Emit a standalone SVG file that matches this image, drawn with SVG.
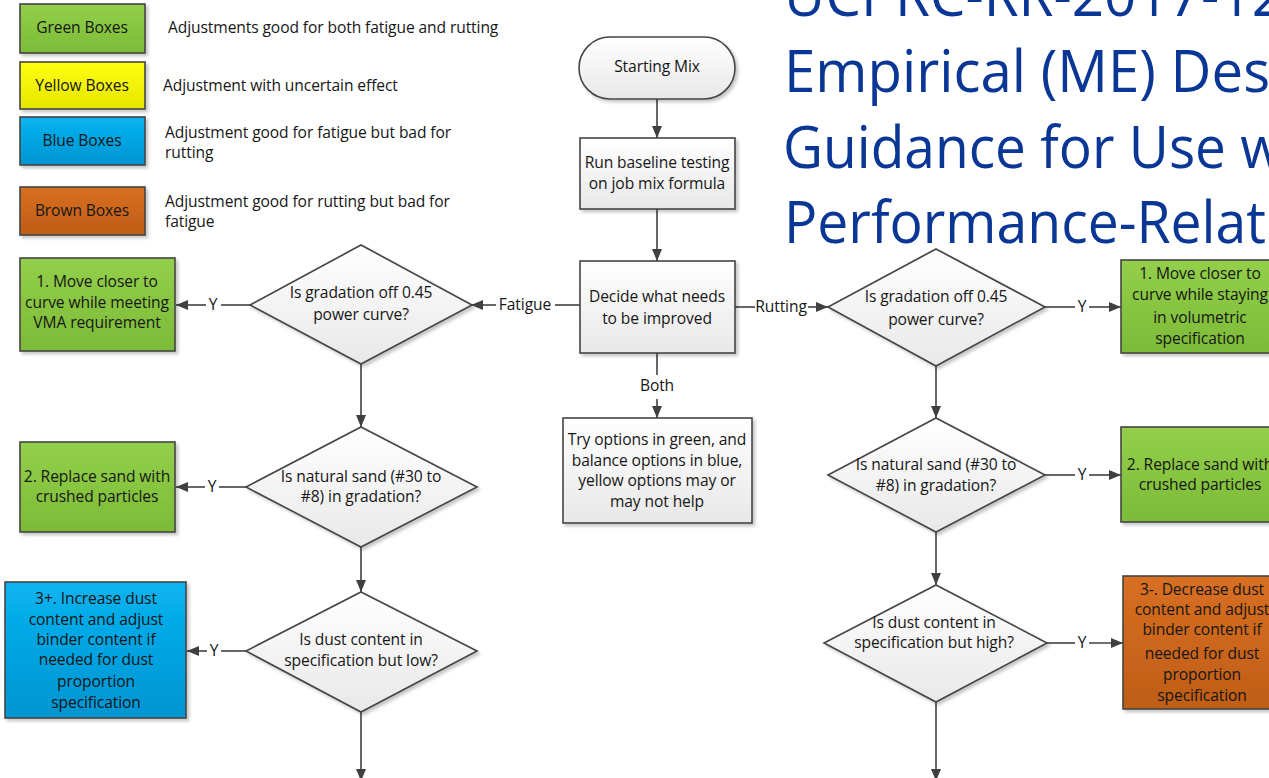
<svg xmlns="http://www.w3.org/2000/svg" width="1269" height="778" viewBox="0 0 1269 778">
  <defs>
    <linearGradient id="gGray" x1="0" y1="0" x2="0" y2="1">
      <stop offset="0" stop-color="#ffffff"/>
      <stop offset="1" stop-color="#e8e8e8"/>
    </linearGradient>
    <linearGradient id="gGreen" x1="0" y1="0" x2="0" y2="1">
      <stop offset="0" stop-color="#93cf4a"/>
      <stop offset="1" stop-color="#7cbb38"/>
    </linearGradient>
    <linearGradient id="gYellow" x1="0" y1="0" x2="0" y2="1">
      <stop offset="0" stop-color="#ffff10"/>
      <stop offset="1" stop-color="#e6e600"/>
    </linearGradient>
    <linearGradient id="gBlue" x1="0" y1="0" x2="0" y2="1">
      <stop offset="0" stop-color="#08b4f0"/>
      <stop offset="1" stop-color="#0094d2"/>
    </linearGradient>
    <linearGradient id="gBrown" x1="0" y1="0" x2="0" y2="1">
      <stop offset="0" stop-color="#d86f22"/>
      <stop offset="1" stop-color="#bf5d16"/>
    </linearGradient>
    <filter id="shadow" x="-10%" y="-10%" width="130%" height="130%">
      <feDropShadow dx="2.5" dy="2.5" stdDeviation="1.5" flood-color="#000" flood-opacity="0.22"/>
    </filter>
    <marker id="arr" viewBox="0 0 12 10" refX="12" refY="5" markerWidth="12" markerHeight="10" markerUnits="userSpaceOnUse" orient="auto">
      <path d="M0,0 L12,5 L0,10 z" fill="#404040"/>
    </marker>
  </defs>
  <style>
    .box { stroke: #444; stroke-width: 1.6; filter: url(#shadow); }
    .gray { fill: url(#gGray); }
    .green { fill: url(#gGreen); }
    .yellow { fill: url(#gYellow); }
    .blue { fill: url(#gBlue); }
    .brown { fill: url(#gBrown); }
    text { font-family: "Open Sans", "Noto Sans", sans-serif; font-size: 15.6px; fill: #161616; letter-spacing: -0.1px; }
    .c { text-anchor: middle; }
    .conn path { stroke: #404040; stroke-width: 1.6; fill: none; }
    .conn .a { marker-end: url(#arr); }
    .title { font-family: "Open Sans", "Noto Sans", sans-serif; font-size: 58px; fill: #0a3796; letter-spacing: 0; }
  </style>

  <rect width="1269" height="778" fill="#ffffff"/>

  <!-- legend -->
  <g id="legend-green">
    <rect class="box green" x="20" y="4" width="125" height="49"/>
    <text class="c" x="82" y="33">Green Boxes</text>
    <text x="168" y="33">Adjustments good for both fatigue and rutting</text>
  </g>
  <g id="legend-yellow">
    <rect class="box yellow" x="20" y="62" width="125" height="47"/>
    <text class="c" x="82" y="91">Yellow Boxes</text>
    <text x="163" y="91">Adjustment with uncertain effect</text>
  </g>
  <g id="legend-blue">
    <rect class="box blue" x="20" y="117" width="125" height="48"/>
    <text class="c" x="82" y="146">Blue Boxes</text>
    <text x="165" y="138">Adjustment good for fatigue but bad for</text>
    <text x="165" y="158">rutting</text>
  </g>
  <g id="legend-brown">
    <rect class="box brown" x="20" y="187" width="125" height="48"/>
    <text class="c" x="82" y="216">Brown Boxes</text>
    <text x="165" y="207">Adjustment good for rutting but bad for</text>
    <text x="165" y="227">fatigue</text>
  </g>

  <!-- title block -->
  <g id="title">
    <text class="title" x="784" y="16" textLength="500" lengthAdjust="spacingAndGlyphs">UCPRC-RR-2017-12</text>
    <text class="title" x="784" y="92" textLength="486" lengthAdjust="spacingAndGlyphs">Empirical (ME) Des</text>
    <text class="title" x="783" y="168" textLength="500" lengthAdjust="spacingAndGlyphs">Guidance for Use w</text>
    <text class="title" x="784" y="243" textLength="482" lengthAdjust="spacingAndGlyphs">Performance-Relat</text>
  </g>

  <!-- connectors -->
  <g id="connectors" class="conn">
    <path class="a" d="M657,99 V138"/>
    <path class="a" d="M657,209 V261"/>
    <path d="M657,353 V375"/>
    <path class="a" d="M657,399 V418"/>
    <path d="M580,305 H555"/>
    <path class="a" d="M496,305 H471"/>
    <path d="M735,307 H755"/>
    <path class="a" d="M808,307 H828"/>
    <path d="M250,305 H221"/>
    <path class="a" d="M206,305 H176"/>
    <path class="a" d="M361,364 V427"/>
    <path d="M246,487 H219"/>
    <path class="a" d="M205,487 H176"/>
    <path class="a" d="M361,547 V592"/>
    <path d="M246,651 H221"/>
    <path class="a" d="M207,651 H187"/>
    <path class="a" d="M361,712 V781"/>
    <path d="M1045,307 H1075"/>
    <path class="a" d="M1089,307 H1121"/>
    <path class="a" d="M936,366 V418"/>
    <path d="M1045,475 H1075"/>
    <path class="a" d="M1089,475 H1121"/>
    <path class="a" d="M936,532 V585"/>
    <path d="M1047,643 H1075"/>
    <path class="a" d="M1089,643 H1123"/>
    <path class="a" d="M936,702 V781"/>
    <text class="c" x="525" y="310">Fatigue</text>
    <text class="c" x="781" y="312">Rutting</text>
    <text class="c" x="657" y="391">Both</text>
    <text class="c" x="213" y="310">Y</text>
    <text class="c" x="212" y="492">Y</text>
    <text class="c" x="214" y="656">Y</text>
    <text class="c" x="1082" y="312">Y</text>
    <text class="c" x="1082" y="480">Y</text>
    <text class="c" x="1082" y="648">Y</text>
  </g>

  <!-- central column -->
  <g id="start">
    <rect class="box gray" x="579" y="37" width="156" height="62" rx="31" ry="31"/>
    <text class="c" x="657" y="72">Starting Mix</text>
  </g>
  <g id="baseline">
    <rect class="box gray" x="580" y="138" width="155" height="71"/>
    <text class="c" x="657" y="168">Run baseline testing</text>
    <text class="c" x="657" y="189">on job mix formula</text>
  </g>
  <g id="decide">
    <rect class="box gray" x="580" y="261" width="155" height="92"/>
    <text class="c" x="657" y="302">Decide what needs</text>
    <text class="c" x="657" y="324">to be improved</text>
  </g>
  <g id="both">
    <rect class="box gray" x="563" y="418" width="189" height="105"/>
    <text class="c" x="657" y="445">Try options in green, and</text>
    <text class="c" x="657" y="466">balance options in blue,</text>
    <text class="c" x="657" y="486">yellow options may or</text>
    <text class="c" x="657" y="507">may not help</text>
  </g>

  <!-- fatigue branch -->
  <g id="f-gradation">
    <polygon class="box gray" points="361,245 472,305 361,364 250,305"/>
    <text class="c" x="361" y="298">Is gradation off 0.45</text>
    <text class="c" x="361" y="320">power curve?</text>
  </g>
  <g id="f-move">
    <rect class="box green" x="20" y="258" width="155" height="93"/>
    <text class="c" x="97" y="287">1. Move closer to</text>
    <text class="c" x="97" y="308">curve while meeting</text>
    <text class="c" x="97" y="328">VMA requirement</text>
  </g>
  <g id="f-sand">
    <polygon class="box gray" points="361,427 477,487 361,547 246,487"/>
    <text class="c" x="361" y="482">Is natural sand (#30 to</text>
    <text class="c" x="361" y="502">#8) in gradation?</text>
  </g>
  <g id="f-replace">
    <rect class="box green" x="20" y="442" width="155" height="90"/>
    <text class="c" x="97" y="482">2. Replace sand with</text>
    <text class="c" x="97" y="502">crushed particles</text>
  </g>
  <g id="f-dust">
    <polygon class="box gray" points="361,592 477,651 361,712 246,651"/>
    <text class="c" x="361" y="645">Is dust content in</text>
    <text class="c" x="361" y="666">specification but low?</text>
  </g>
  <g id="f-increase">
    <rect class="box blue" x="5" y="582" width="181" height="136"/>
    <text class="c" x="96" y="604">3+. Increase dust</text>
    <text class="c" x="96" y="625">content and adjust</text>
    <text class="c" x="96" y="645">binder content if</text>
    <text class="c" x="96" y="665">needed for dust</text>
    <text class="c" x="96" y="687">proportion</text>
    <text class="c" x="96" y="708">specification</text>
  </g>

  <!-- rutting branch -->
  <g id="r-gradation">
    <polygon class="box gray" points="936,249 1045,307 936,366 828,307"/>
    <text class="c" x="936" y="302">Is gradation off 0.45</text>
    <text class="c" x="936" y="325">power curve?</text>
  </g>
  <g id="r-move">
    <rect class="box green" x="1121" y="260" width="157" height="93"/>
    <text class="c" x="1200" y="279">1. Move closer to</text>
    <text class="c" x="1200" y="300">curve while staying</text>
    <text class="c" x="1200" y="323">in volumetric</text>
    <text class="c" x="1200" y="344">specification</text>
  </g>
  <g id="r-sand">
    <polygon class="box gray" points="936,418 1045,475 936,532 828,475"/>
    <text class="c" x="936" y="470">Is natural sand (#30 to</text>
    <text class="c" x="936" y="491">#8) in gradation?</text>
  </g>
  <g id="r-replace">
    <rect class="box green" x="1121" y="427" width="157" height="95"/>
    <text class="c" x="1200" y="470">2. Replace sand with</text>
    <text class="c" x="1200" y="490">crushed particles</text>
  </g>
  <g id="r-dust">
    <polygon class="box gray" points="936,585 1047,643 936,702 824,643"/>
    <text class="c" x="934" y="628">Is dust content in</text>
    <text class="c" x="934" y="648">specification but high?</text>
  </g>
  <g id="r-decrease">
    <rect class="box brown" x="1123" y="576" width="157" height="133"/>
    <text class="c" x="1202" y="595">3-. Decrease dust</text>
    <text class="c" x="1202" y="615">content and adjust</text>
    <text class="c" x="1202" y="635">binder content if</text>
    <text class="c" x="1202" y="659">needed for dust</text>
    <text class="c" x="1202" y="680">proportion</text>
    <text class="c" x="1202" y="701">specification</text>
  </g>
</svg>
